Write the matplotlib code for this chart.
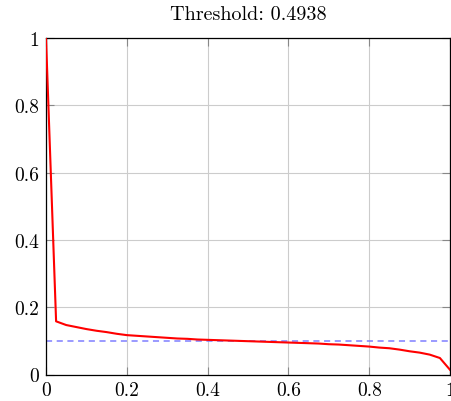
import numpy as np
import matplotlib.pyplot as plt

plt.rcParams['font.family'] = 'cmr10'
plt.rcParams['mathtext.fontset'] = 'cm'
plt.rcParams['axes.formatter.use_mathtext'] = True

# fraction of samples vs. score along the threshold sweep
x = np.linspace(0, 1, 41)
y = [1.0, 0.158, 0.147, 0.141,
     0.135, 0.130, 0.126, 0.121, 0.117, 0.115, 0.113, 0.111, 0.109, 0.107,
     0.106, 0.104, 0.103, 0.102, 0.101, 0.100, 0.099, 0.098, 0.097, 0.096,
     0.095, 0.094, 0.093, 0.092, 0.090, 0.089, 0.087, 0.085, 0.083, 0.080,
     0.078, 0.074, 0.069, 0.065, 0.059, 0.049, 0.014]
baseline = 0.1
title = 'Threshold: 0.4938'

fig = plt.figure(figsize=(4.51, 4.02), dpi=100)
ax = fig.add_axes([46/451, 26.5/402, 404/451, 336.5/402])

ax.axhline(baseline, color='#7f7fff', lw=1.1, ls=(0, (4, 3)), zorder=2)
ax.plot(x, y, color='red', lw=1.5, zorder=3)

ax.set_xlim(0, 1)
ax.set_ylim(0, 1)
ax.set_xticks([0, 0.2, 0.4, 0.6, 0.8, 1])
ax.set_yticks([0, 0.2, 0.4, 0.6, 0.8, 1])
ax.set_xticklabels(['0', '0.2', '0.4', '0.6', '0.8', '1'])
ax.set_yticklabels(['0', '0.2', '0.4', '0.6', '0.8', '1'])
ax.grid(True, color='#cccccc', lw=0.8)
ax.tick_params(direction='in', length=6, color='#888888', labelsize=14,
               top=True, right=True, pad=5)
for s in ax.spines.values():
    s.set_linewidth(0.9)
ax.set_title(title, fontsize=14.5, pad=14)

fig.savefig('out.png', dpi=100)
